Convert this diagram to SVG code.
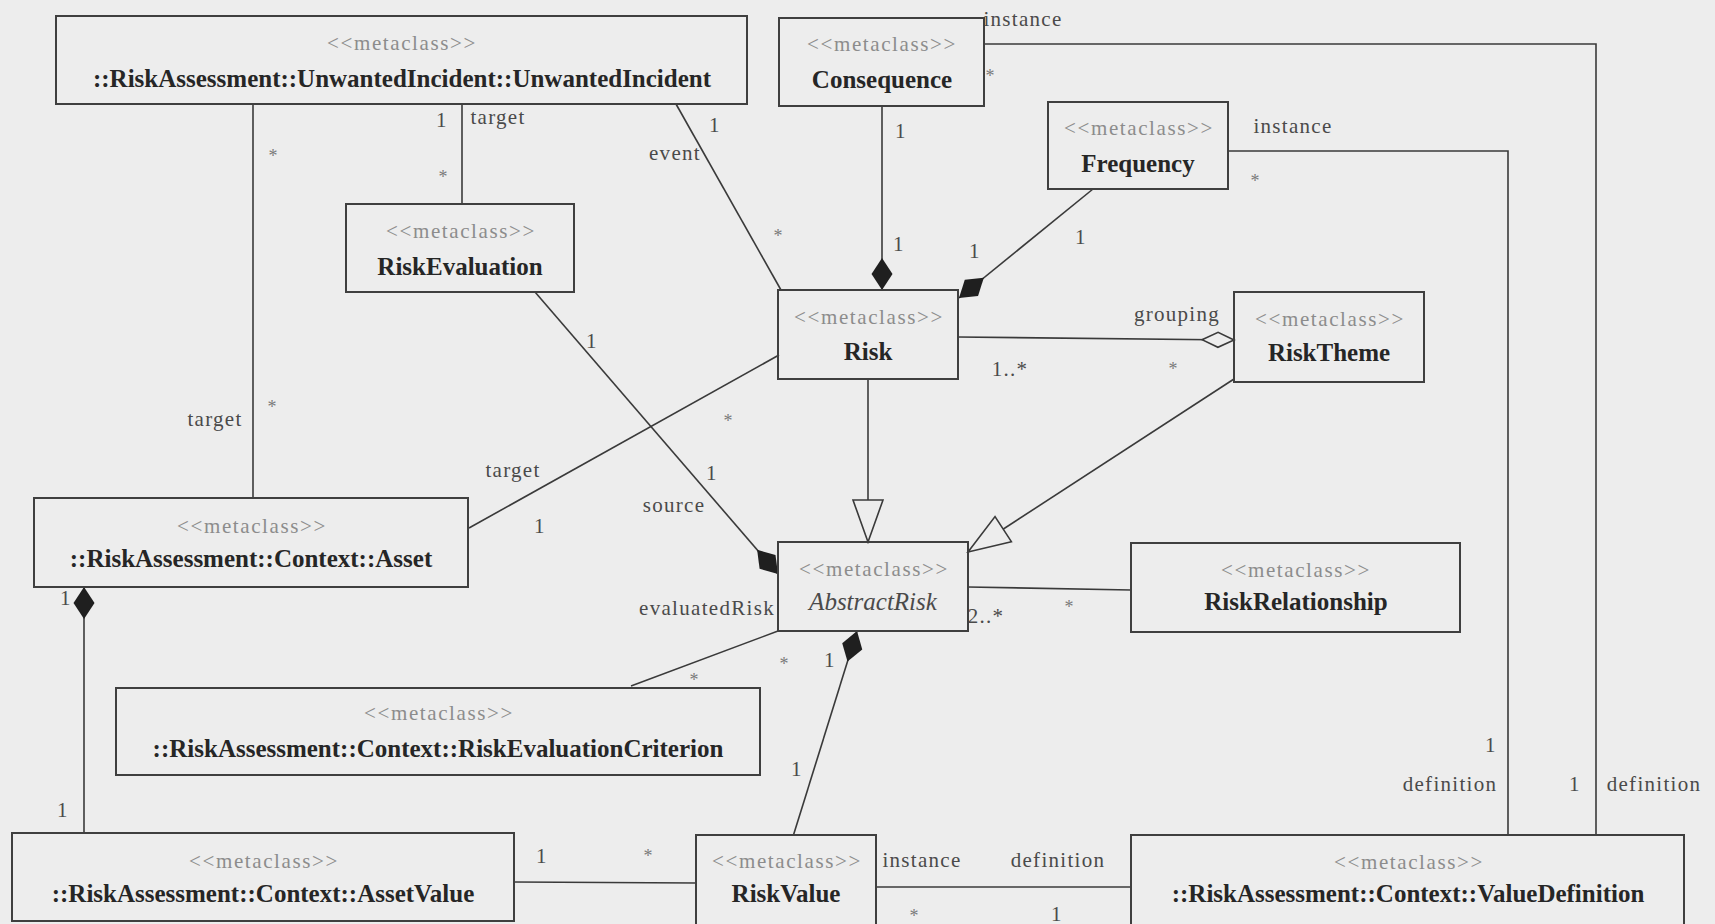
<svg xmlns="http://www.w3.org/2000/svg" width="1715" height="924" viewBox="0 0 1715 924">
  <style>
    .box { fill: none; stroke: #3f3f3f; stroke-width: 2; }
    .st { font-family: "Liberation Serif", "Times New Roman", serif; font-size: 21px; fill: #8c8c8c; letter-spacing: 1.6px; text-anchor: middle; }
    .nm { font-family: "Liberation Serif", "Times New Roman", serif; font-size: 25px; font-weight: bold; fill: #262626; text-anchor: middle; }
    .nmi { font-family: "Liberation Serif", "Times New Roman", serif; font-size: 25px; font-style: italic; fill: #4a4a4a; text-anchor: middle; }
    .ln { fill: none; stroke: #3a3a3a; stroke-width: 1.6; }
    .lb { font-family: "Liberation Serif", "Times New Roman", serif; font-size: 21px; fill: #4a4a4a; letter-spacing: 1.3px; text-anchor: middle; }
    .ast { font-family: "Liberation Serif", "Times New Roman", serif; font-size: 18px; fill: #7a7a7a; text-anchor: middle; }
  </style>
  <defs>
    <marker id="comp" viewBox="0 -11 34 22" refX="32" refY="0" markerWidth="34" markerHeight="22" orient="auto" markerUnits="userSpaceOnUse">
      <path d="M0,0 L16,-10.5 L32,0 L16,10.5 Z" fill="#1f1f1f"/>
    </marker>
    <marker id="aggr" viewBox="-1 -9 35 18" refX="32" refY="0" markerWidth="35" markerHeight="18" orient="auto" markerUnits="userSpaceOnUse">
      <path d="M0,0 L16,-7.5 L32,0 L16,7.5 Z" fill="#ededed" stroke="#3a3a3a" stroke-width="1.6"/>
    </marker>
    <marker id="gen" viewBox="-2 -17 46 34" refX="42" refY="0" markerWidth="46" markerHeight="34" orient="auto" markerUnits="userSpaceOnUse">
      <path d="M0,-15 L42,0 L0,15 Z" fill="#ededed" stroke="#3a3a3a" stroke-width="1.6"/>
    </marker>
  </defs>

  <rect width="1715" height="924" fill="#ededed"/>

  <!-- connectors -->
  <g id="connectors">
    <path class="ln" d="M253,104 L253,498"/>
    <path class="ln" d="M462,104 L462,204"/>
    <path class="ln" d="M676,104 L781,290"/>
    <path class="ln" d="M882,106 L882,290" marker-end="url(#comp)"/>
    <path class="ln" d="M984,44 L1596,44 L1596,835"/>
    <path class="ln" d="M1228,151 L1508,151 L1508,835"/>
    <path class="ln" d="M1093,189 L959,298" marker-end="url(#comp)"/>
    <path class="ln" d="M958,337 L1234,340" marker-end="url(#aggr)"/>
    <path class="ln" d="M868,379 L868,542" marker-end="url(#gen)"/>
    <path class="ln" d="M1234,379 L968,552" marker-end="url(#gen)"/>
    <path class="ln" d="M535,292 L778,574" marker-end="url(#comp)"/>
    <path class="ln" d="M779,355 L469,528"/>
    <path class="ln" d="M84,833 L84,587" marker-end="url(#comp)"/>
    <path class="ln" d="M778,631 L631,686"/>
    <path class="ln" d="M968,587 L1131,590"/>
    <path class="ln" d="M793.5,835 L857,631" marker-end="url(#comp)"/>
    <path class="ln" d="M514,882 L696,883"/>
    <path class="ln" d="M876,887 L1131,887"/>

    <!-- role names and multiplicities -->
    <text class="lb" x="1023" y="26">instance</text>
    <text class="ast" x="990" y="82">*</text>
    <text class="lb" x="1293" y="133">instance</text>
    <text class="ast" x="1255" y="187">*</text>
    <text class="lb" x="901" y="138">1</text>
    <text class="lb" x="899" y="251">1</text>
    <text class="lb" x="975" y="258">1</text>
    <text class="lb" x="1081" y="244">1</text>
    <text class="lb" x="1177" y="321">grouping</text>
    <text class="lb" x="1010" y="376">1..*</text>
    <text class="ast" x="1173" y="375">*</text>
    <text class="lb" x="442" y="127">1</text>
    <text class="lb" x="498" y="124">target</text>
    <text class="ast" x="443" y="183">*</text>
    <text class="ast" x="273" y="162">*</text>
    <text class="lb" x="715" y="132">1</text>
    <text class="lb" x="675" y="160">event</text>
    <text class="ast" x="778" y="242">*</text>
    <text class="lb" x="592" y="348">1</text>
    <text class="lb" x="712" y="480">1</text>
    <text class="lb" x="674" y="512">source</text>
    <text class="ast" x="728" y="427">*</text>
    <text class="lb" x="513" y="477">target</text>
    <text class="lb" x="540" y="533">1</text>
    <text class="lb" x="215" y="426">target</text>
    <text class="ast" x="272" y="413">*</text>
    <text class="lb" x="66" y="605">1</text>
    <text class="lb" x="63" y="817">1</text>
    <text class="lb" x="707" y="615">evaluatedRisk</text>
    <text class="ast" x="694" y="686">*</text>
    <text class="ast" x="784" y="670">*</text>
    <text class="lb" x="830" y="667">1</text>
    <text class="lb" x="797" y="776">1</text>
    <text class="lb" x="986" y="623">2..*</text>
    <text class="ast" x="1069" y="613">*</text>
    <text class="lb" x="542" y="863">1</text>
    <text class="ast" x="648" y="862">*</text>
    <text class="lb" x="922" y="867">instance</text>
    <text class="lb" x="1058" y="867">definition</text>
    <text class="ast" x="914" y="922">*</text>
    <text class="lb" x="1057" y="921">1</text>
    <text class="lb" x="1491" y="752">1</text>
    <text class="lb" x="1450" y="791">definition</text>
    <text class="lb" x="1575" y="791">1</text>
    <text class="lb" x="1654" y="791">definition</text>
  </g>

  <!-- classes -->
  <g id="unwanted-incident">
    <rect class="box" x="56" y="16" width="691" height="88"/>
    <text class="st" x="402" y="50">&lt;&lt;metaclass&gt;&gt;</text>
    <text class="nm" x="402" y="87">::RiskAssessment::UnwantedIncident::UnwantedIncident</text>
  </g>
  <g id="consequence">
    <rect class="box" x="779" y="18" width="205" height="88"/>
    <text class="st" x="882" y="51">&lt;&lt;metaclass&gt;&gt;</text>
    <text class="nm" x="882" y="88">Consequence</text>
  </g>
  <g id="frequency">
    <rect class="box" x="1048" y="102" width="180" height="87"/>
    <text class="st" x="1139" y="135">&lt;&lt;metaclass&gt;&gt;</text>
    <text class="nm" x="1138" y="172">Frequency</text>
  </g>
  <g id="risk-evaluation">
    <rect class="box" x="346" y="204" width="228" height="88"/>
    <text class="st" x="461" y="238">&lt;&lt;metaclass&gt;&gt;</text>
    <text class="nm" x="460" y="275">RiskEvaluation</text>
  </g>
  <g id="risk">
    <rect class="box" x="778" y="290" width="180" height="89"/>
    <text class="st" x="869" y="324">&lt;&lt;metaclass&gt;&gt;</text>
    <text class="nm" x="868" y="360">Risk</text>
  </g>
  <g id="risk-theme">
    <rect class="box" x="1234" y="292" width="190" height="90"/>
    <text class="st" x="1330" y="326">&lt;&lt;metaclass&gt;&gt;</text>
    <text class="nm" x="1329" y="361">RiskTheme</text>
  </g>
  <g id="asset">
    <rect class="box" x="34" y="498" width="434" height="89"/>
    <text class="st" x="252" y="533">&lt;&lt;metaclass&gt;&gt;</text>
    <text class="nm" x="251" y="567">::RiskAssessment::Context::Asset</text>
  </g>
  <g id="abstract-risk">
    <rect class="box" x="778" y="542" width="190" height="89"/>
    <text class="st" x="874" y="576">&lt;&lt;metaclass&gt;&gt;</text>
    <text class="nmi" x="873" y="610">AbstractRisk</text>
  </g>
  <g id="risk-relationship">
    <rect class="box" x="1131" y="543" width="329" height="89"/>
    <text class="st" x="1296" y="577">&lt;&lt;metaclass&gt;&gt;</text>
    <text class="nm" x="1296" y="610">RiskRelationship</text>
  </g>
  <g id="risk-evaluation-criterion">
    <rect class="box" x="116" y="688" width="644" height="87"/>
    <text class="st" x="439" y="720">&lt;&lt;metaclass&gt;&gt;</text>
    <text class="nm" x="438" y="757">::RiskAssessment::Context::RiskEvaluationCriterion</text>
  </g>
  <g id="asset-value">
    <rect class="box" x="12" y="833" width="502" height="88"/>
    <text class="st" x="264" y="868">&lt;&lt;metaclass&gt;&gt;</text>
    <text class="nm" x="263" y="902">::RiskAssessment::Context::AssetValue</text>
  </g>
  <g id="risk-value">
    <rect class="box" x="696" y="835" width="180" height="92"/>
    <text class="st" x="787" y="868">&lt;&lt;metaclass&gt;&gt;</text>
    <text class="nm" x="786" y="902">RiskValue</text>
  </g>
  <g id="value-definition">
    <rect class="box" x="1131" y="835" width="553" height="92"/>
    <text class="st" x="1409" y="869">&lt;&lt;metaclass&gt;&gt;</text>
    <text class="nm" x="1408" y="902">::RiskAssessment::Context::ValueDefinition</text>
  </g>
</svg>
